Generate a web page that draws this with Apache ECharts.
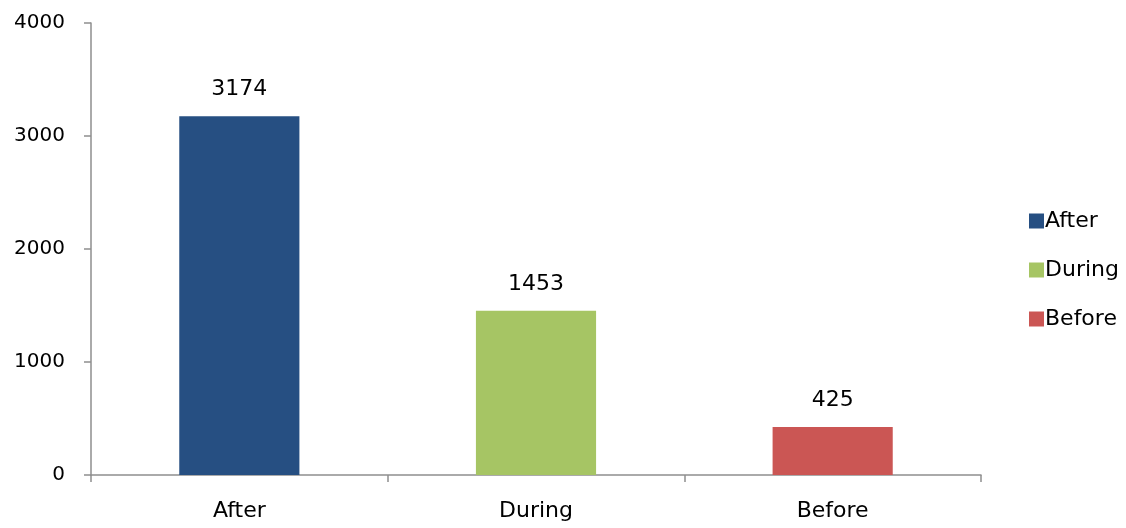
<!DOCTYPE html>
<html>
<head>
<meta charset="utf-8">
<script src="https://cdn.jsdelivr.net/npm/echarts@6/dist/echarts.min.js"></script>
<style>
  html, body { margin: 0; padding: 0; background: #fff; }
  #chart { width: 1126px; height: 528px; }
</style>
</head>
<body>
<div id="chart"></div>
<script>
// Counts by period
const categories = ['After', 'During', 'Before'];
const values = [3174, 1453, 425];
const colors = ['#264f82', '#a6c564', '#cb5654'];
const yTicks = [0, 1000, 2000, 3000, 4000];

const FONT = 'DejaVu Sans';

// One series per period so the legend lists each bar; stacking keeps every bar centred in its band
const series = categories.map((name, i) => ({
  name: name,
  type: 'bar',
  stack: 'all',
  barWidth: '40.5%',
  itemStyle: { color: colors[i] },
  label: {
    show: true,
    position: 'top',
    distance: 16,
    color: '#000',
    fontFamily: FONT,
    fontSize: 22
  },
  data: categories.map((c, j) => (j === i ? values[i] : '-'))
}));

const chart = echarts.init(document.getElementById('chart'));
chart.setOption({
  animation: false,
  backgroundColor: '#fff',
  grid: { left: 91, right: 145, top: 23, bottom: 53, containLabel: false },
  legend: {
    orient: 'vertical',
    left: 1024,
    top: 205,
    itemWidth: 15,
    itemHeight: 15,
    itemGap: 27,
    icon: 'rect',
    textStyle: { fontFamily: FONT, fontSize: 22, color: '#000', padding: [0, 0, 0, -4] },
    data: categories
  },
  xAxis: {
    type: 'category',
    data: categories,
    axisLine: { lineStyle: { color: '#8e8e8e', width: 1.5 } },
    axisTick: { show: true, length: 7, alignWithLabel: false, lineStyle: { color: '#8e8e8e', width: 1.5 } },
    axisLabel: { margin: 25, fontFamily: FONT, fontSize: 22, color: '#000' }
  },
  yAxis: {
    type: 'value',
    min: yTicks[0],
    max: yTicks[yTicks.length - 1],
    interval: yTicks[1] - yTicks[0],
    splitLine: { show: false },
    axisLine: { show: true, lineStyle: { color: '#8e8e8e', width: 1.5 } },
    axisTick: { show: true, length: 7, lineStyle: { color: '#8e8e8e', width: 1.5 } },
    axisLabel: { margin: 26, fontFamily: FONT, fontSize: 20, color: '#000', formatter: v => String(v) }
  },
  series: series
});
</script>
</body>
</html>
